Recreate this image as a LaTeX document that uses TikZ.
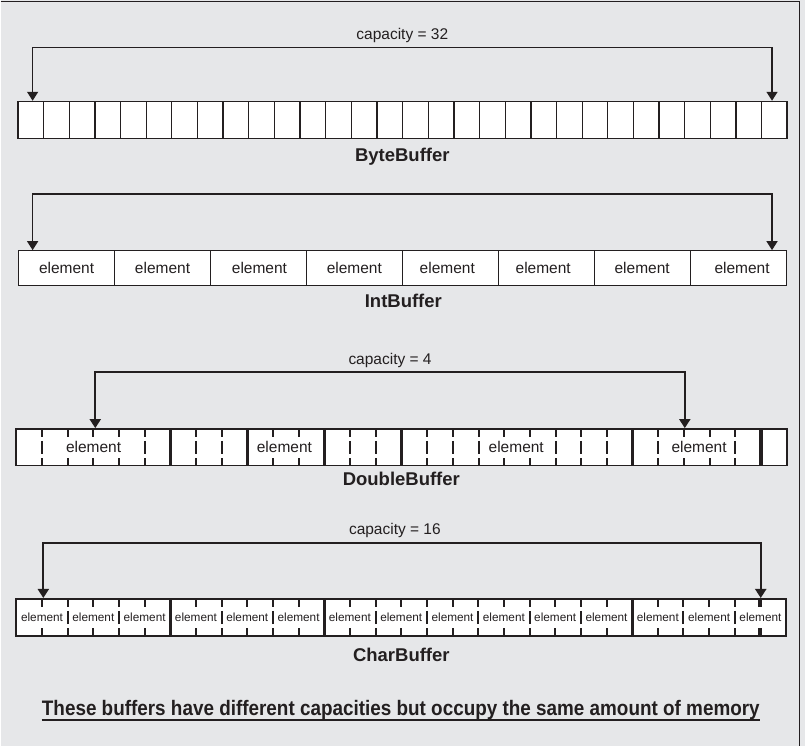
\documentclass[tikz,border=0pt]{standalone}
\usepackage{fontspec}
\setmainfont{Liberation Sans}
\newfontfamily\notefont[FakeStretch=0.9]{Liberation Sans}
\usetikzlibrary{arrows.meta}
\definecolor{paper}{HTML}{E6E7E9}
\definecolor{ink}{HTML}{231F20}

\begin{document}
\begin{tikzpicture}[x=1pt, y=-1pt,
  buffer/.style = {draw=ink, line width=1.7pt, fill=white, rectangle, inner sep=0pt},
  cell/.style = {draw=ink, line width=1.3pt},
  slot/.style = {draw=ink, line width=2pt, dash pattern=on 8pt off 4pt on 40pt},
  wall/.style = {draw=ink, line width=3pt},
  elem/.style = {fill=white, text=ink, inner xsep=1pt, inner ysep=1.5pt, font=\fontsize{15.5}{16}\selectfont},
  charelem/.style = {elem, inner ysep=2pt, font=\fontsize{11.8}{12}\selectfont},
  span/.style = {draw=ink, line width=1.4pt, {Triangle[width=11pt,length=9pt]}-{Triangle[width=11pt,length=9pt]}},
  caplabel/.style = {above=3pt, inner sep=1pt, text=ink, font=\fontsize{15.5}{16}\selectfont},
  bufname/.style = {text=ink, inner sep=0pt, font=\bfseries\fontsize{18.5}{20}\selectfont}]
% background and frame
\fill [paper] (0,0) rectangle (805,747);
\draw [ink, line width=1.3pt] (0,1.3) -- (799.3,1.3) -- (799.3,747);

% ByteBuffer
\node [buffer, minimum width=770pt, minimum height=37pt] (byte) at (402.3,120.2) {};
\foreach \i [evaluate=\i as \x using 17.3+\i*25.667] in {1,...,29}
  \draw [cell] (\x,101.7) -- (\x,138.7);
\coordinate (byteL) at (32,47.3);
\coordinate (byteR) at (772,47.3);
\draw [span] (byteL |- byte.north) -- (byteL) -- node[caplabel] {capacity = 32} (byteR) -- (byteR |- byte.north);
\node [bufname] (bytename) at (402,157) {ByteBuffer};

% IntBuffer
\node [buffer, line width=1.3pt, minimum width=768.5pt, minimum height=35pt] (int) at (402.25,268.5) {};
\foreach \i [evaluate=\i as \x using 18+\i*96.06] in {1,...,7}
  \draw [cell, line width=1pt] (\x,251) -- (\x,286);
\foreach \x [count=\k] in {66,162,259,354,447,543,642,742}
  \node [elem] (int\k) at (\x,268.5) {element};
\coordinate (intL) at (32,194);
\coordinate (intR) at (772,194);
\draw [span] (intL |- int.north) -- (intL) -- (intR) -- (intR |- int.north);
\node [bufname] (intname) at (403,301) {IntBuffer};

% DoubleBuffer
\node [buffer, minimum width=771pt, minimum height=36.7pt] (double) at (401.2,447.65) {};
\foreach \i [evaluate=\i as \x using 15.7+\i*25.7] in {1,2,3,4,5,7,8,10,11,13,14,16,17,18,19,20,21,22,23,25,26,27,28}
  \draw [slot] (\x,429.3) -- (\x,447.65) (\x,466) -- (\x,447.65);
\foreach \i [evaluate=\i as \x using 15.7+\i*25.7] in {6,9,12,15,24}
  \draw [wall] (\x,429.3) -- (\x,466);
\draw [wall, line width=4.5pt] (15.7+29*25.7,429.3) -- (15.7+29*25.7,466);
\foreach \x [count=\k] in {93,284,516,699}
  \node [elem] (double\k) at (\x,447.65) {element};
\coordinate (doubleL) at (94.7,372.7);
\coordinate (doubleR) at (684.7,372.7);
\draw [span, line width=2pt] (doubleL |- double.north) -- (doubleL) -- node[caplabel, above=0pt] {capacity = 4} (doubleR) -- (doubleR |- double.north);
\node [bufname] (doublename) at (401,479) {DoubleBuffer};

% CharBuffer
\node [buffer, minimum width=770.3pt, minimum height=37.4pt] (char) at (400.85,618) {};
\foreach \i [evaluate=\i as \x using 15.7+\i*25.68] in {1,2,3,4,5,7,8,9,10,11,13,14,15,16,17,18,19,20,21,22,23,25,26,27,28}
  \draw [slot] (\x,599.3) -- (\x,618) (\x,636.7) -- (\x,618);
\foreach \i [evaluate=\i as \x using 15.7+\i*25.68] in {6,12,24}
  \draw [wall] (\x,599.3) -- (\x,636.7);
\draw [slot, line width=4pt] (15.7+29*25.68,599.3) -- (15.7+29*25.68,618) (15.7+29*25.68,636.7) -- (15.7+29*25.68,618);
\foreach \k [evaluate=\k as \x using 15.7+(2*\k+1)*25.68] in {0,...,14}
  \node [charelem] (char\k) at (\x,618) {element};
\coordinate (charL) at (42.7,543.3);
\coordinate (charR) at (760.7,543.3);
\draw [span, line width=2pt] (charL |- char.north) -- (charL) -- node[caplabel, above=0pt, pos=0.49] {capacity = 16} (charR) -- (charR |- char.north);
\node [bufname] (charname) at (401,655) {CharBuffer};

% note
\node [text=ink, inner sep=0pt, font=\notefont\bfseries\fontsize{21}{23}\selectfont] (note) at (400.5,711) {These buffers have different capacities but occupy the same amount of memory};
\draw [ink, line width=2pt] ([yshift=-4pt]note.base west) -- ([yshift=-4pt]note.base east);
\end{tikzpicture}
\end{document}
